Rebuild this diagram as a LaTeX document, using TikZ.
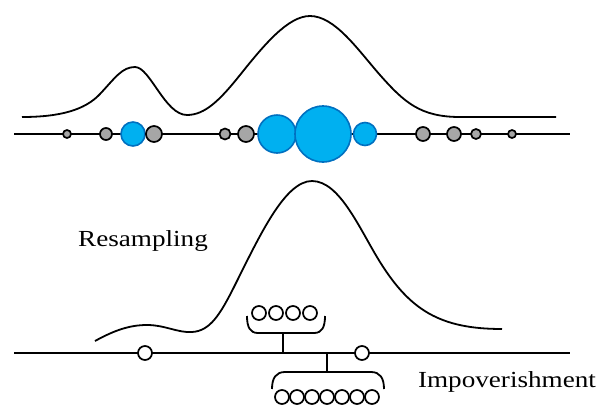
\documentclass[tikz,border=0pt]{standalone}
\usepackage{fontspec}
\setmainfont{Liberation Serif}
\newfontfamily\labelfont[FakeStretch=1.18]{Liberation Serif}
\definecolor{partblue}{HTML}{00B0F0}
\definecolor{partedge}{HTML}{0070C0}
\definecolor{partgray}{HTML}{A6A6A6}
\tikzset{
  axisline/.style={line width=1.8pt},
  density/.style={line width=1.8pt},
  graypt/.style={circle, draw=black, fill=partgray, line width=1.7pt, inner sep=0pt},
  bluept/.style={circle, draw=partedge, fill=partblue, line width=1.6pt, inner sep=0pt},
  whitept/.style={circle, draw=black, fill=white, line width=1.7pt, inner sep=0pt, minimum size=14pt},
  bracketline/.style={line width=1.8pt},
  caption/.style={font=\labelfont\fontsize{23}{27}\selectfont, inner sep=0pt}
}
\begin{document}
\begin{tikzpicture}[x=1pt, y=-1pt]
\useasboundingbox (0,0) rectangle (603,405);

% ---- prior density and weighted particles ----
\draw[density] (22,117) .. controls (60,117) and (85,110) .. (100,94)
  .. controls (115,78) and (122,67) .. (135,67)
  .. controls (150,67) and (165,115) .. (187,115)
  .. controls (205,115) and (220,100) .. (240,75)
  .. controls (264,45) and (288,16) .. (310,16)
  .. controls (335,16) and (358,50) .. (380,75)
  .. controls (404,102) and (420,117) .. (460,117) -- (556,117);

\coordinate (a1) at (14,134);
\coordinate (a2) at (570,134);
\draw[axisline] (a1) -- (a2);

\node[graypt, minimum size=8pt]  (p1)  at (67,134) {};
\node[graypt, minimum size=12pt] (p2)  at (106,134) {};
\node[bluept, minimum size=24pt] (p3)  at (133,134) {};
\node[graypt, minimum size=16pt] (p4)  at (154,134) {};
\node[graypt, minimum size=11pt] (p5)  at (225,134) {};
\node[graypt, minimum size=16pt] (p6)  at (246,134) {};
\node[bluept, minimum size=38pt] (p7)  at (277,134) {};
\node[bluept, minimum size=56pt] (p8)  at (323,134) {};
\node[bluept, minimum size=23pt] (p9)  at (365,134) {};
\node[graypt, minimum size=14pt] (p10) at (423,134) {};
\node[graypt, minimum size=14pt] (p11) at (454,134) {};
\node[graypt, minimum size=10pt] (p12) at (476,134) {};
\node[graypt, minimum size=8pt]  (p13) at (512,134) {};

% ---- resampled density ----
\draw[density] (95,341) .. controls (115,330) and (130,325) .. (147,325)
  .. controls (165,325) and (178,333) .. (192,332)
  .. controls (210,331) and (220,315) .. (235,285)
  .. controls (260,235) and (285,181) .. (312,181)
  .. controls (340,181) and (360,230) .. (380,262)
  .. controls (410,310) and (440,329) .. (502,329);

\node[caption] (resampling) at (143,241) {Resampling};

\coordinate (b1) at (14,353);
\coordinate (b2) at (570,353);
\draw[axisline] (b1) -- (b2);

\node[whitept] (q1) at (145,353) {};
\node[whitept] (q2) at (362,353) {};

% ---- upper group of copies ----
\foreach \i/\x in {1/259,2/276,3/293,4/310}
  \node[whitept] (u\i) at (\x,313) {};
\draw[bracketline] (247,316) .. controls (247,327) and (250,333) .. (258,333)
  -- (314,333) .. controls (322,333) and (325,327) .. (325,316);
\coordinate (ustem) at (283,333);
\coordinate (uaxis) at (283,353);
\draw[bracketline] (ustem) -- (uaxis);

% ---- lower group of copies ----
\coordinate (laxis) at (327,353);
\coordinate (lstem) at (327,372);
\draw[bracketline] (laxis) -- (lstem);
\draw[bracketline] (272,389) .. controls (272,378) and (276,372) .. (285,372)
  -- (371,372) .. controls (380,372) and (384,378) .. (384,389);
\foreach \i/\x in {1/282,2/297,3/312,4/327,5/342,6/357,7/372}
  \node[whitept] (l\i) at (\x,397) {};

\node[caption] (impov) at (507,382) {Impoverishment};
\end{tikzpicture}
\end{document}
